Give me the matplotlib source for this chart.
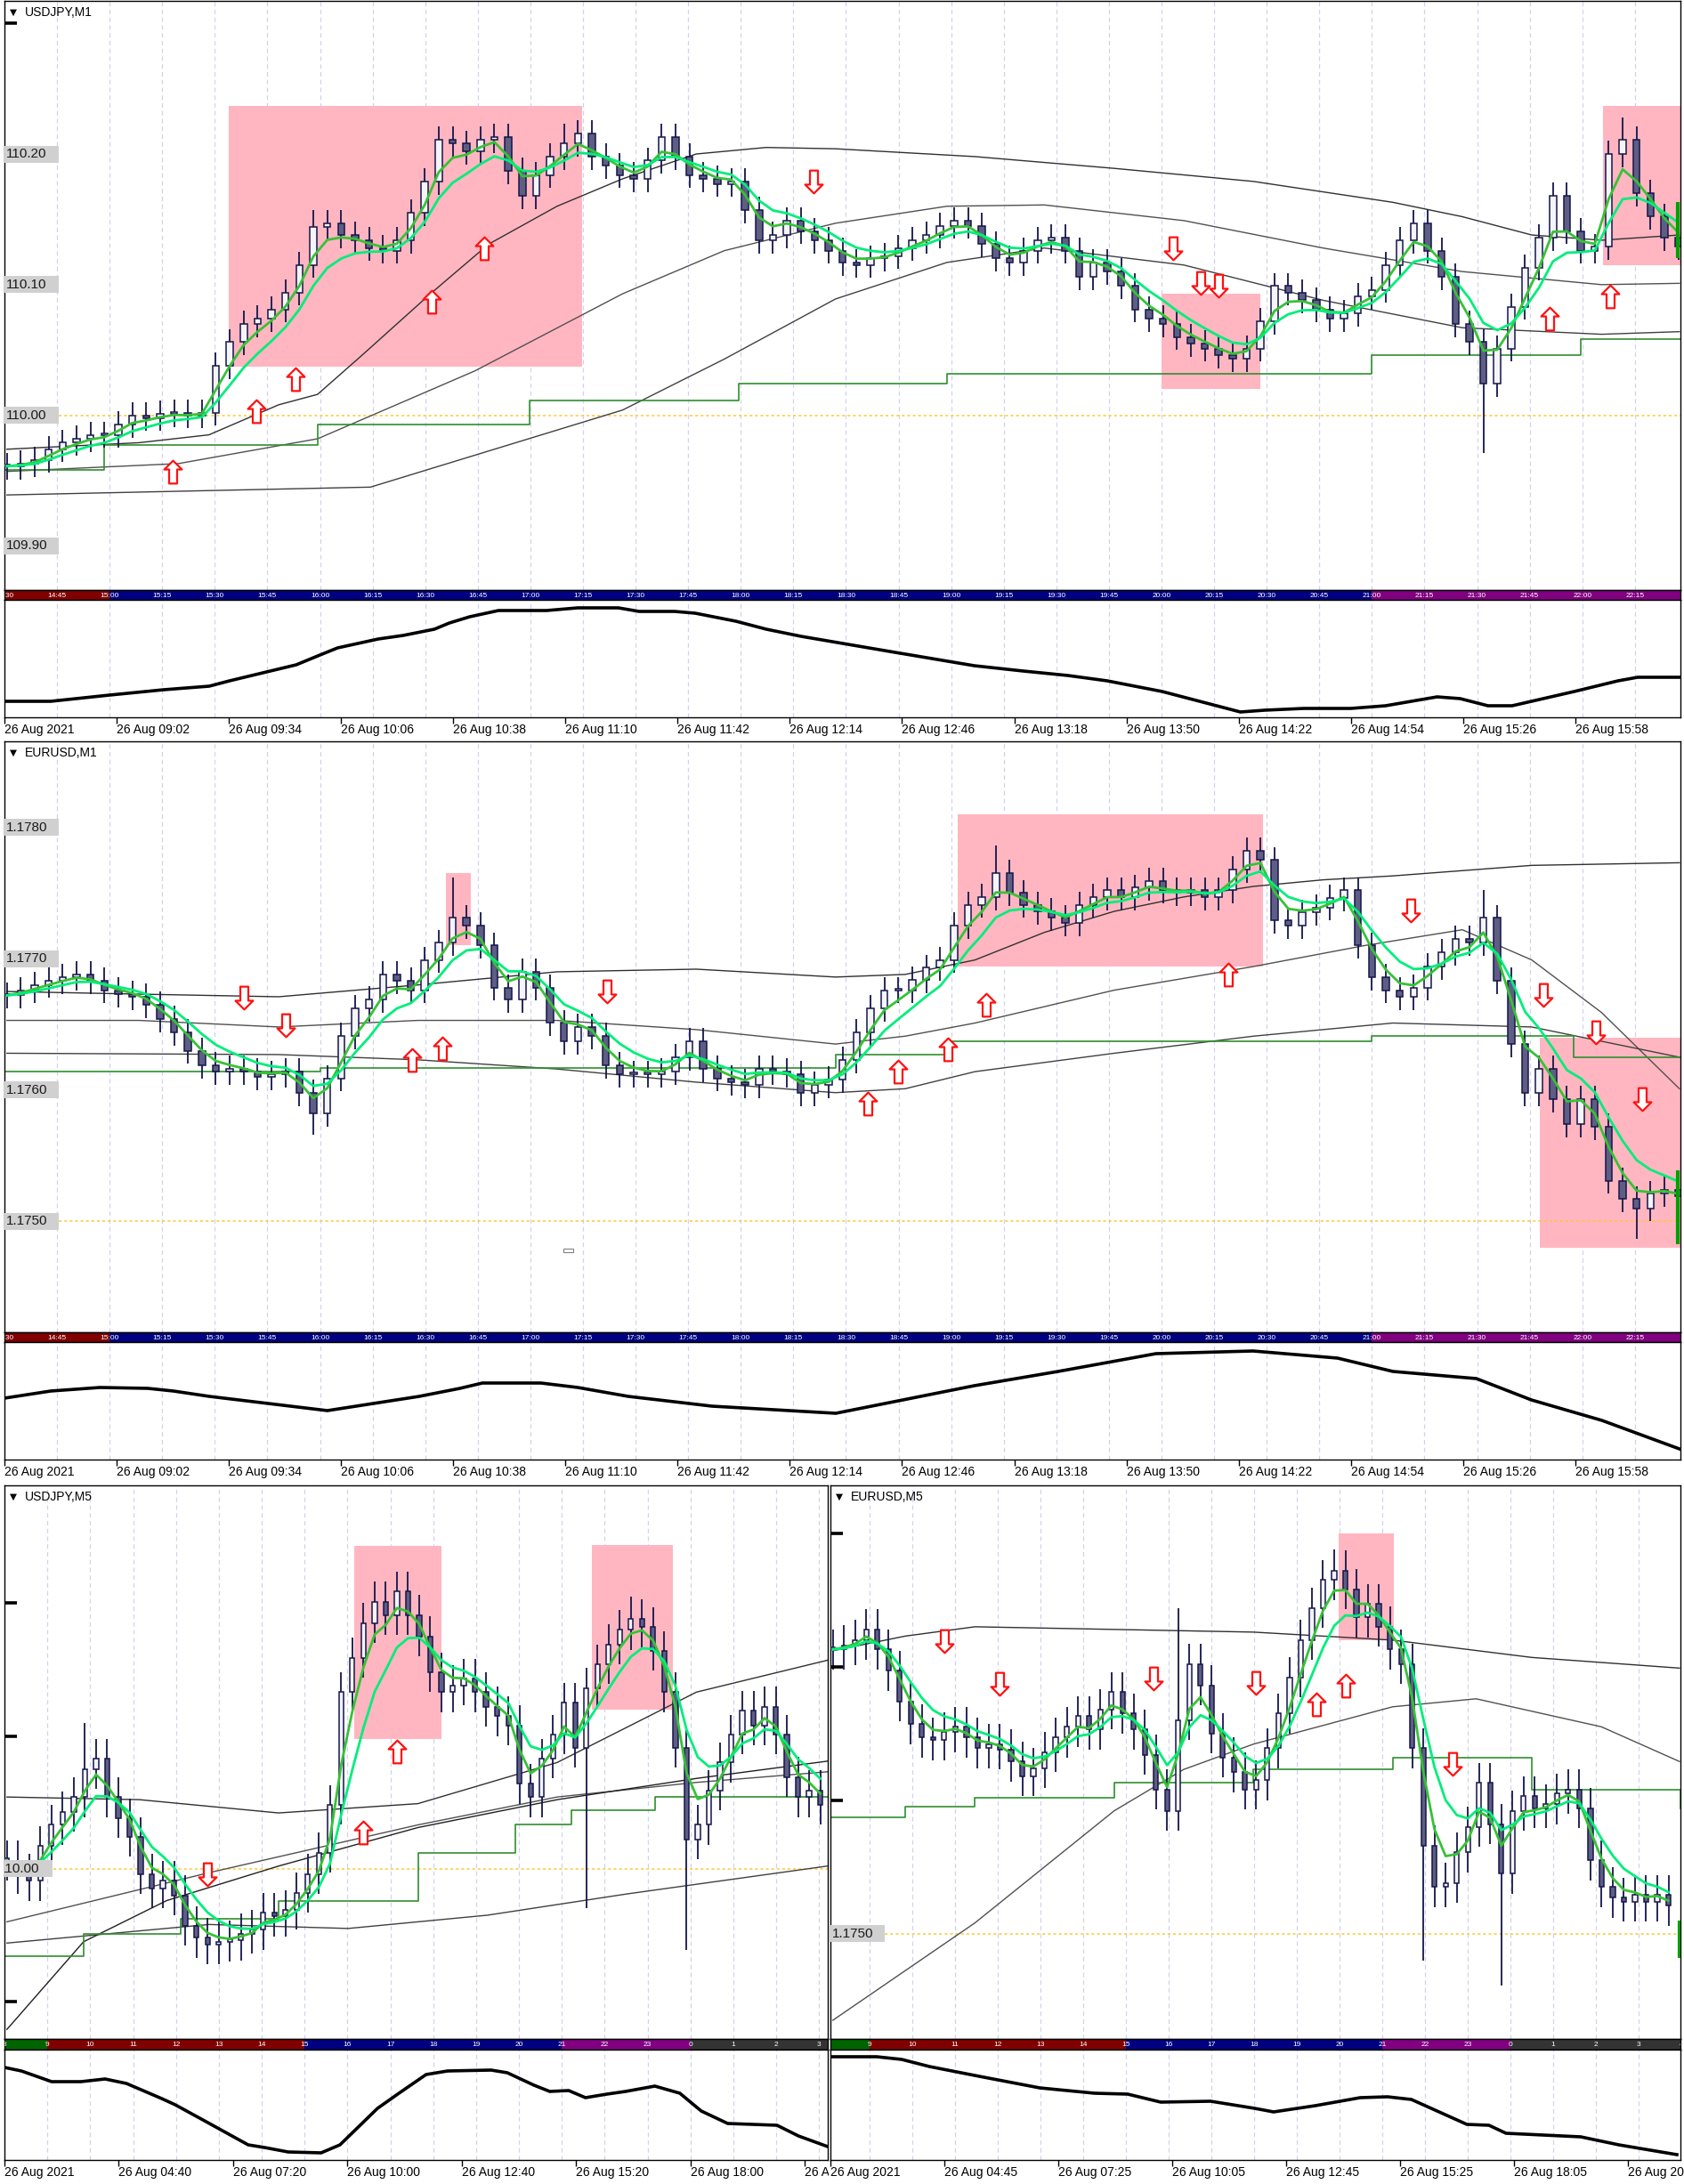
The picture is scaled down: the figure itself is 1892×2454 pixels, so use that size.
import numpy as np
import pandas as pd
import matplotlib
matplotlib.use('Agg')
import matplotlib.pyplot as plt
from matplotlib.path import Path
from matplotlib.patches import Rectangle
from matplotlib.transforms import blended_transform_factory, Bbox, TransformedBbox

plt.rcParams['font.family'] = ['Liberation Sans', 'DejaVu Sans']

# ===================== DATA =====================
# ---- USDJPY M1 (top panel) : closes, one candle every ~4 minutes from 08:30
uj1_close = [109.961, 109.963, 109.966, 109.974, 109.979, 109.982, 109.985, 109.985, 109.993, 110.000,
             109.998, 110.001, 110.002, 110.000, 110.002, 110.038, 110.056, 110.070, 110.074, 110.081,
             110.094, 110.115, 110.144, 110.147, 110.138, 110.134, 110.128, 110.126, 110.134, 110.155,
             110.179, 110.211, 110.208, 110.202, 110.211, 110.213, 110.187, 110.168, 110.184, 110.198,
             110.208, 110.216, 110.198, 110.191, 110.184, 110.181, 110.195, 110.213, 110.198, 110.184,
             110.181, 110.177, 110.179, 110.157, 110.134, 110.138, 110.149, 110.141, 110.134, 110.126,
             110.117, 110.115, 110.120, 110.122, 110.128, 110.134, 110.138, 110.145, 110.149, 110.145,
             110.131, 110.120, 110.117, 110.126, 110.134, 110.136, 110.126, 110.106, 110.117, 110.110,
             110.099, 110.081, 110.074, 110.070, 110.060, 110.055, 110.051, 110.046, 110.043, 110.051,
             110.072, 110.099, 110.094, 110.088, 110.081, 110.074, 110.078, 110.091, 110.096, 110.115,
             110.134, 110.147, 110.126, 110.106, 110.070, 110.056, 110.024, 110.051, 110.083, 110.113,
             110.136, 110.168, 110.141, 110.126, 110.129, 110.200, 110.211, 110.170, 110.152, 110.136,
             110.129]
uj1_spike_high = {22: 110.157, 40: 110.223, 116: 110.228}
uj1_spike_low = {106: 109.971}
uj1_upper_t = [0.7, 38.4, 58.3, 78.2, 89.3, 102, 121.5, 138.1, 157.6, 176.3, 197.3, 217.2, 237, 276.8, 316.5, 356.2, 396, 415.8, 435.6, 455.5, 477.7]
uj1_upper_p = [109.974, 109.979, 109.985, 110.008, 110.016, 110.046, 110.093, 110.131, 110.160, 110.181, 110.200, 110.205, 110.204, 110.198, 110.189, 110.179, 110.163, 110.152, 110.138, 110.134, 110.138]
uj1_mid_t = [0.7, 49.6, 89.3, 134.2, 176.3, 205.3, 237, 268.8, 296.6, 336.4, 376.1, 415.8, 455.5, 477.7]
uj1_mid_p = [109.957, 109.963, 109.982, 110.034, 110.093, 110.126, 110.147, 110.160, 110.161, 110.149, 110.128, 110.110, 110.100, 110.101]
uj1_low_t = [0.7, 104.4, 176.3, 205.3, 237, 268.8, 296.6, 336.4, 376.1, 415.8, 455.5, 477.7]
uj1_low_p = [109.939, 109.945, 110.004, 110.043, 110.089, 110.117, 110.128, 110.115, 110.088, 110.067, 110.062, 110.064]
uj1_step_t = [0, 28.5, 89.3, 149.7, 209.3, 268.8, 390, 449.6, 478]
uj1_step_p = [109.958, 109.977, 109.993, 110.011, 110.024, 110.032, 110.046, 110.058, 110.058]
uj1_up_t = [48.0, 71.8, 82.9, 121.9, 136.9, 440.8, 457.9]
uj1_up_p = [109.957, 110.003, 110.028, 110.087, 110.128, 110.074, 110.091]
uj1_dn_t = [230.7, 333.2, 341.1, 346.3]
uj1_dn_p = [110.179, 110.128, 110.101, 110.099]
uj1_boxes = [(63.9, 164.8, 110.037, 110.237), (330.0, 358.2, 110.020, 110.093), (455.9, 478.0, 110.115, 110.237)]
uj1_last_bar = (110.120, 110.163)
uj1_ind_t = [0, 13.2, 30, 45.4, 58.4, 64.2, 83.2, 90.6, 95, 106.6, 113.7, 122.6, 126.9, 132.7, 140.9, 154.6,
             163.5, 175.1, 181, 191.1, 197, 208.6, 217.3, 227.2, 252.5, 276.6, 290.6, 303.3, 314.5, 330.2,
             352.5, 359.4, 370.6, 384, 393.9, 408.6, 415.2, 423.1, 430, 447.7, 460.2, 465.8, 478]
uj1_ind_v = [18, 18, 25, 31, 35, 41, 59, 71, 78, 88, 92, 99, 106, 113, 120, 120, 123, 123, 119, 119, 117, 108,
             99, 91, 74, 58, 52, 47, 41, 29, 6, 8, 10, 10, 13, 23, 21, 13, 13, 29, 41, 45, 45]

# ---- EURUSD M1 (second panel)
eu1_close = [1.17672, 1.17676, 1.17680, 1.17683, 1.17686, 1.17688, 1.17683, 1.17676, 1.17673, 1.17671,
             1.17665, 1.17654, 1.17644, 1.17630, 1.17619, 1.17614, 1.17616, 1.17614, 1.17610, 1.17612,
             1.17614, 1.17598, 1.17582, 1.17609, 1.17641, 1.17662, 1.17669, 1.17688, 1.17683, 1.17676,
             1.17699, 1.17712, 1.17731, 1.17725, 1.17710, 1.17678, 1.17669, 1.17690, 1.17678, 1.17651,
             1.17637, 1.17648, 1.17641, 1.17619, 1.17612, 1.17612, 1.17612, 1.17614, 1.17625, 1.17637,
             1.17616, 1.17609, 1.17606, 1.17604, 1.17616, 1.17614, 1.17612, 1.17598, 1.17604, 1.17608,
             1.17623, 1.17644, 1.17662, 1.17676, 1.17676, 1.17684, 1.17693, 1.17699, 1.17725, 1.17741,
             1.17747, 1.17765, 1.17750, 1.17741, 1.17736, 1.17731, 1.17727, 1.17741, 1.17747, 1.17752,
             1.17747, 1.17754, 1.17759, 1.17752, 1.17750, 1.17752, 1.17747, 1.17752, 1.17768, 1.17782,
             1.17775, 1.17729, 1.17725, 1.17735, 1.17739, 1.17746, 1.17752, 1.17710, 1.17686, 1.17676,
             1.17671, 1.17678, 1.17694, 1.17705, 1.17715, 1.17712, 1.17731, 1.17683, 1.17635, 1.17598,
             1.17616, 1.17593, 1.17574, 1.17593, 1.17572, 1.17531, 1.17517, 1.17510, 1.17521, 1.17524,
             1.17519]
eu1_spike_high = {32: 1.17762, 71: 1.17786, 89: 1.17789, 106: 1.17752}
eu1_spike_low = {22: 1.17566, 117: 1.17487}
eu1_upper_t = [0.7, 38.4, 78.2, 117.9, 157.6, 197.3, 237, 256.9, 276.8, 296.6, 316.5, 336.4, 356.2, 376.1, 396, 435.6, 477.7]
eu1_upper_p = [1.17675, 1.17673, 1.17671, 1.17680, 1.17690, 1.17692, 1.17686, 1.17688, 1.17699, 1.17720, 1.17736, 1.17747, 1.17755, 1.17760, 1.17763, 1.17771, 1.17773]
eu1_mid_t = [0.7, 38.4, 78.2, 117.9, 157.6, 197.3, 237, 256.9, 276.8, 316.5, 356.2, 388, 415.8, 435.6, 455.5, 477.7]
eu1_mid_p = [1.17653, 1.17653, 1.17648, 1.17653, 1.17653, 1.17646, 1.17635, 1.17641, 1.17651, 1.17676, 1.17694, 1.17710, 1.17722, 1.17699, 1.17659, 1.17601]
eu1_low_t = [0.7, 78.2, 117.9, 157.6, 197.3, 237, 256.9, 276.8, 316.5, 356.2, 396, 435.6, 477.7]
eu1_low_p = [1.17628, 1.17627, 1.17623, 1.17616, 1.17606, 1.17598, 1.17601, 1.17614, 1.17628, 1.17641, 1.17651, 1.17648, 1.17625]
eu1_step_t = [0, 90.1, 237, 268.8, 390, 447.6, 478]
eu1_step_p = [1.17614, 1.17617, 1.17627, 1.17637, 1.17641, 1.17625, 1.17625]
eu1_up_t = [116.3, 125.0, 246.2, 254.9, 269.2, 280.0, 349.1]
eu1_up_p = [1.17623, 1.17632, 1.17590, 1.17614, 1.17631, 1.17665, 1.17688]
eu1_dn_t = [68.2, 80.2, 171.9, 401.1, 438.8, 453.9, 467.0]
eu1_dn_p = [1.17670, 1.17649, 1.17675, 1.17737, 1.17672, 1.17644, 1.17593]
eu1_boxes = [(125.8, 133.0, 1.17710, 1.17765), (272.0, 359.0, 1.17694, 1.17810), (438.0, 478.0, 1.17480, 1.17640)]
eu1_last_bar = (1.17483, 1.17539)
eu1_ind_t = [0, 13.2, 27.2, 40.9, 48.2, 58.4, 92.1, 118.3, 129.9, 136.3, 153, 163.5, 177.9, 201.8, 237.1,
             276.6, 300.5, 328.4, 356.1, 380.2, 396, 419.8, 435.5, 455.6, 477.7]
eu1_ind_v = [69, 77, 81, 80, 77, 71, 55, 71, 80, 86, 86, 81, 71, 60, 52, 83, 99, 119, 122, 114, 99, 91, 67, 44, 12]

# ---- USDJPY M5 (bottom left) : one candle every ~15.6 minutes
uj5_close = [110.006, 109.996, 109.991, 110.017, 110.033, 110.043, 110.054, 110.075, 110.083, 110.054,
             110.038, 110.024, 109.996, 109.985, 109.991, 109.980, 109.957, 109.948, 109.943, 109.945,
             109.946, 109.951, 109.954, 109.967, 109.964, 109.969, 109.982, 109.996, 110.012, 110.048,
             110.133, 110.159, 110.185, 110.201, 110.191, 110.209, 110.191, 110.175, 110.148, 110.133,
             110.138, 110.143, 110.133, 110.122, 110.115, 110.108, 110.064, 110.054, 110.083, 110.101,
             110.125, 110.091, 110.136, 110.154, 110.169, 110.180, 110.188, 110.182, 110.164, 110.133,
             110.091, 110.022, 110.033, 110.059, 110.080, 110.101, 110.119, 110.108, 110.122, 110.101,
             110.069, 110.054, 110.059, 110.048]
uj5_spike_high = {7: 110.110, 35: 110.224, 56: 110.205}
uj5_spike_low = {52: 109.970, 61: 109.939}
uj5_lines = {
    'upper': ([3.5, 188.7, 383.6, 578.5, 773.4, 968.3, 1151.5], [110.054, 110.052, 110.042, 110.049, 110.080, 110.133, 110.157]),
    'mid': ([3.5, 286.2, 578.5, 773.4, 968.3, 1151.5], [109.960, 109.997, 110.033, 110.054, 110.065, 110.073]),
    'low': ([3.5, 286.2, 481, 676, 871, 1151.5], [109.944, 109.958, 109.955, 109.965, 109.981, 110.002]),
    'long': ([3.5, 110.7, 227, 383.6, 578.5, 773.4, 968.3, 1151.5], [109.879, 109.945, 109.976, 110.002, 110.031, 110.052, 110.068, 110.081]),
}
uj5_step_t = [0, 110.7, 247.2, 383.6, 578.5, 715, 793, 910, 1152]
uj5_step_p = [109.934, 109.951, 109.962, 109.976, 110.012, 110.033, 110.044, 110.054, 110.054]
uj5_up_t = [502.5, 549]
uj5_up_p = [110.027, 110.088]
uj5_dn_t = [284]
uj5_dn_p = [109.996]
uj5_boxes = [(489, 611, 110.098, 110.243), (822, 935, 110.120, 110.244)]
uj5_ind_t = [0, 23.7, 66, 107, 140.7, 170.6, 220, 239, 280, 341, 364, 397, 443, 469.5, 522, 552, 590, 620,
             681, 703.6, 741, 763, 789.5, 813, 843, 869, 910, 945, 975, 1012, 1081, 1111, 1152]
uj5_ind_v = [104, 100, 88, 88, 91, 86, 69, 62, 44, 17, 14, 9, 8, 17, 58, 75, 96, 100, 101, 98, 84, 77, 78,
             70, 74, 77, 83, 75, 55, 41, 39, 27, 15]

# ---- EURUSD M5 (bottom right)
eu5_close = [1.17713, 1.17716, 1.17720, 1.17728, 1.17713, 1.17697, 1.17674, 1.17657, 1.17647, 1.17645,
             1.17651, 1.17655, 1.17647, 1.17639, 1.17642, 1.17638, 1.17629, 1.17618, 1.17624, 1.17636,
             1.17647, 1.17655, 1.17663, 1.17653, 1.17668, 1.17681, 1.17665, 1.17653, 1.17634, 1.17608,
             1.17592, 1.17660, 1.17702, 1.17686, 1.17650, 1.17632, 1.17621, 1.17608, 1.17615, 1.17639,
             1.17665, 1.17692, 1.17720, 1.17744, 1.17765, 1.17772, 1.17758, 1.17737, 1.17747, 1.17730,
             1.17713, 1.17702, 1.17639, 1.17566, 1.17535, 1.17538, 1.17561, 1.17580, 1.17613, 1.17582,
             1.17545, 1.17592, 1.17603, 1.17594, 1.17597, 1.17605, 1.17608, 1.17594, 1.17555, 1.17535,
             1.17527, 1.17524, 1.17529, 1.17524, 1.17529, 1.17521]
eu5_spike_high = {45: 1.17788, 31: 1.17744}
eu5_spike_low = {60: 1.17461, 53: 1.17480}
eu5_lines = {
    'upper': ([3.4, 105.1, 203, 398.5, 594.1, 789.7, 985.3, 1192.6], [1.17712, 1.17723, 1.17730, 1.17728, 1.17726, 1.17720, 1.17707, 1.17699]),
    'mid': ([3.4, 203, 398.5, 496, 594.1, 789.7, 907, 1083, 1192.6], [1.17435, 1.17508, 1.17592, 1.17623, 1.17642, 1.17670, 1.17676, 1.17655, 1.17629]),
}
eu5_step_t = [0, 105.1, 203, 398.5, 594.1, 789.7, 985.3, 1194]
eu5_step_p = [1.17587, 1.17595, 1.17602, 1.17613, 1.17623, 1.17632, 1.17608, 1.17594]
eu5_up_t = [682.5, 723.5]
eu5_up_p = [1.17672, 1.17686]
eu5_dn_t = [160, 238, 453.5, 598, 874]
eu5_dn_p = [1.17719, 1.17687, 1.17691, 1.17688, 1.17627]
eu5_boxes = [(714, 792, 1.17720, 1.17800)]
eu5_last_bar = (1.17482, 1.17510)
eu5_ind_t = [0, 65, 100, 139, 209, 294, 371, 417.5, 464, 534, 596, 622.5, 681, 744, 782.5, 816, 894, 925,
             949, 1054, 1107.5, 1189]
eu5_ind_v = [116, 116, 113, 105, 94, 81, 75, 74, 65, 66, 58, 54, 61, 70, 71, 68, 40, 39, 30, 26, 17, 6]

# time-axis labels
m1_tick_t = [0, 32, 64, 96, 128, 160, 192, 224, 256, 288, 320, 352, 384, 416, 448]
m1_tick_lab = ['26 Aug 2021', '26 Aug 09:02', '26 Aug 09:34', '26 Aug 10:06', '26 Aug 10:38', '26 Aug 11:10',
               '26 Aug 11:42', '26 Aug 12:14', '26 Aug 12:46', '26 Aug 13:18', '26 Aug 13:50', '26 Aug 14:22',
               '26 Aug 14:54', '26 Aug 15:26', '26 Aug 15:58']
uj5_tick_t = [0, 160, 320, 480, 640, 800, 960, 1120]
uj5_tick_lab = ['26 Aug 2021', '26 Aug 04:40', '26 Aug 07:20', '26 Aug 10:00', '26 Aug 12:40', '26 Aug 15:20',
                '26 Aug 18:00', '26 Aug 20:40']
eu5_tick_t = [0, 160, 320, 480, 640, 800, 960, 1120]
eu5_tick_lab = ['26 Aug 2021', '26 Aug 04:45', '26 Aug 07:25', '26 Aug 10:05', '26 Aug 12:45', '26 Aug 15:25',
                '26 Aug 18:05', '26 Aug 20:45']

# ===================== STYLE =====================
W, H = 1892, 2454
fig = plt.figure(figsize=(W / 100, H / 100), dpi=100)
fig.patch.set_facecolor('white')

GRID_C = '#d2d2ee'
EDGE_C = '#15154a'
BEAR_C = '#5e5e84'
BULL_C = '#f4f4fa'
PINK = '#ffb6c1'
FAST_C = '#36c236'
SLOW_C = '#00ee7a'
STEP_C = '#2f8f2f'
YEL_C = '#ffc830'
ENV_C = ['#303030', '#505050', '#404040', '#202020']

UPV = [(0, 1), (0.77, 0.23), (0.35, 0.23), (0.35, -1), (-0.35, -1), (-0.35, 0.23), (-0.77, 0.23), (0, 1)]
CODES = [Path.MOVETO] + [Path.LINETO] * 6 + [Path.CLOSEPOLY]
UP = Path(UPV, CODES)
DOWN = Path([(x, -y) for x, y in UPV], CODES)


def add_ax(x0, y0, x1, y1):
    ax = fig.add_axes([x0 / W, 1 - y1 / H, (x1 - x0) / W, (y1 - y0) / H])
    ax.set_xticks([])
    ax.set_yticks([])
    for s in ax.spines.values():
        s.set_linewidth(1.0)
        s.set_color('black')
    return ax


def candles(ax, t, close, wick, width, sp_hi, sp_lo):
    c = np.asarray(close, float)
    o = np.r_[c[0], c[:-1]]
    hi = np.maximum(o, c) + wick
    lo = np.minimum(o, c) - wick
    for k, v in sp_hi.items():
        hi[k] = max(hi[k], v)
    for k, v in sp_lo.items():
        lo[k] = min(lo[k], v)
    ax.vlines(t, lo, hi, color=EDGE_C, lw=1.3, zorder=3)
    up = c >= o
    body = np.maximum(np.abs(c - o), wick * 0.12)
    bot = np.minimum(o, c)
    ax.bar(t[up], body[up], width, bot[up], color=BULL_C, edgecolor=EDGE_C, lw=1.1, zorder=4)
    ax.bar(t[~up], body[~up], width, bot[~up], color=BEAR_C, edgecolor=EDGE_C, lw=1.1, zorder=4)
    ax.plot(t, pd.Series(c).ewm(span=3, adjust=False).mean(), color=FAST_C, lw=2.0, zorder=5)
    ax.plot(t, pd.Series(c).ewm(span=6, adjust=False).mean(), color=SLOW_C, lw=2.0, zorder=5)


def arrows(ax, ut, up, dt, dp):
    ax.plot(ut, up, ls='none', marker=UP, ms=18.5, mfc='white', mec='#ff1010', mew=1.6, zorder=9)
    ax.plot(dt, dp, ls='none', marker=DOWN, ms=18.5, mfc='white', mec='#ff1010', mew=1.6, zorder=9)


def boxes(ax, bl):
    for x0, x1, y0, y1 in bl:
        ax.add_patch(Rectangle((x0, y0), x1 - x0, y1 - y0, fc=PINK, ec='none', zorder=1))


def last_bar(ax, rng):
    tr = blended_transform_factory(ax.transAxes, ax.transData)
    ax.plot([0.9985, 0.9985], list(rng), transform=tr, color='#00a000', lw=3, zorder=8,
            solid_capstyle='butt')


def main_panel(box, xlim, ylim, grid, title, levels, shown_levels, fmt, yel, lab_x=1.5):
    ax = add_ax(*box)
    ax.set_xlim(*xlim)
    ax.set_ylim(*ylim)
    for g in grid:
        ax.axvline(g, color=GRID_C, lw=0.9, ls=(0, (4, 3)), zorder=0.5)
    ax.axhline(yel, color=YEL_C, lw=1.1, ls=(0, (2, 2)), zorder=2)
    axw = (box[2] - box[0])
    axh = (box[3] - box[1])
    ppu = axh / (ylim[1] - ylim[0])
    tr = blended_transform_factory(ax.transAxes, ax.transData)
    for lv in levels:
        ax.plot([0, 14 / axw], [lv, lv], transform=tr, color='black', lw=2.6,
                solid_capstyle='butt', zorder=10, clip_on=False)
    for lv in shown_levels:
        ax.add_patch(Rectangle((0, lv - 9.5 / ppu), (61 + lab_x - 1.5) / axw, 19 / ppu, transform=tr,
                               fc='#d0d0d0', ec='none', zorder=11))
        ax.text(lab_x / axw, lv, fmt.format(lv), transform=tr, fontsize=11, va='center', ha='left',
                color='#1a1a1a', zorder=12, clip_on=True)
    ax.text(6 / axw, 1 - 13 / axh, '\u25bc', transform=ax.transAxes, fontsize=7.5, va='center',
            ha='left', family='DejaVu Sans', zorder=12)
    ax.text(23 / axw, 1 - 13 / axh, title, transform=ax.transAxes, fontsize=10, va='center',
            ha='left', zorder=12)
    return ax


def session_bar(box, xlim, segs, labels):
    ax = add_ax(*box)
    ax.set_xlim(*xlim)
    ax.set_ylim(0, 1)
    for a, b, col in segs:
        ax.axvspan(a, b, color=col, lw=0)
    for t, s in labels:
        ax.text(t, 0.45, s, color='white', fontsize=6, ha='center', va='center', clip_on=True)
    return ax


def indicator(box, xlim, t, v, ticks, labs, grid, clip_x1):
    ax = add_ax(*box)
    ax.set_xlim(*xlim)
    ax.set_ylim(0, box[3] - box[1])
    for g in grid:
        ax.axvline(g, color=GRID_C, lw=0.9, ls=(0, (4, 3)), zorder=0.5)
    ax.plot(t, v, color='black', lw=2.6, zorder=3, solid_joinstyle='miter')
    ax.set_xticks(ticks)
    ax.tick_params(axis='x', direction='out', length=5, width=1, labelbottom=False)
    tr = blended_transform_factory(ax.transData, ax.transAxes)
    axh = box[3] - box[1]
    clipbox = TransformedBbox(Bbox.from_extents(box[0] / W, 0, clip_x1 / W, 1), fig.transFigure)
    for tt, s in zip(ticks, labs):
        txt = ax.text(tt, -14 / axh, s, transform=tr, fontsize=10, ha='left', va='center')
        txt.set_clip_on(True)
        txt.set_clip_box(clipbox)
    return ax


# ---------------- Panel 1 : USDJPY M1 ----------------
XL = (0, 478)
m1_grid = np.arange(15, 478, 15)
ax1 = main_panel((5, 1, 1888, 663), XL, (109.8662, 110.3172), m1_grid, 'USDJPY,M1',
                 [109.9, 110.0, 110.1, 110.2, 110.3], [110.2, 110.1, 110.0, 109.9], '{:.2f}', 110.0)
t1 = np.linspace(0.7, 477.4, len(uj1_close))
boxes(ax1, uj1_boxes)
ax1.plot(uj1_upper_t, uj1_upper_p, color=ENV_C[0], lw=1.0, zorder=2)
ax1.plot(uj1_mid_t, uj1_mid_p, color=ENV_C[1], lw=1.0, zorder=2)
ax1.plot(uj1_low_t, uj1_low_p, color=ENV_C[2], lw=1.0, zorder=2)
ax1.step(uj1_step_t, uj1_step_p, where='post', color=STEP_C, lw=1.2, zorder=2)
candles(ax1, t1, uj1_close, 0.010, 1.9, uj1_spike_high, uj1_spike_low)
arrows(ax1, uj1_up_t, uj1_up_p, uj1_dn_t, uj1_dn_p)
last_bar(ax1, uj1_last_bar)

top_segs = [(0, 30, '#800000'), (30, 390, '#000080'), (390, 478, '#800080')]
top_labels = [(m, '%02d:%02d' % ((14 * 60 + 30 + m) // 60, (14 * 60 + 30 + m) % 60)) for m in range(0, 478, 15)]
session_bar((5, 663, 1888, 674), XL, top_segs, top_labels)
indicator((5, 674, 1888, 806), XL, uj1_ind_t, uj1_ind_v, m1_tick_t, m1_tick_lab, m1_grid, 1892)

# ---------------- Panel 2 : EURUSD M1 ----------------
ax2 = main_panel((5, 833, 1888, 1497), XL, (1.174156, 1.178654), m1_grid, 'EURUSD,M1',
                 [1.1750, 1.1760, 1.1770, 1.1780], [1.1780, 1.1770, 1.1760, 1.1750], '{:.4f}', 1.1750)
t2 = np.linspace(0.7, 477.4, len(eu1_close))
boxes(ax2, eu1_boxes)
ax2.plot(eu1_upper_t, eu1_upper_p, color=ENV_C[0], lw=1.0, zorder=2)
ax2.plot(eu1_mid_t, eu1_mid_p, color=ENV_C[1], lw=1.0, zorder=2)
ax2.plot(eu1_low_t, eu1_low_p, color=ENV_C[2], lw=1.0, zorder=2)
ax2.step(eu1_step_t, eu1_step_p, where='post', color=STEP_C, lw=1.2, zorder=2)
candles(ax2, t2, eu1_close, 0.00010, 1.9, eu1_spike_high, eu1_spike_low)
arrows(ax2, eu1_up_t, eu1_up_p, eu1_dn_t, eu1_dn_p)
last_bar(ax2, eu1_last_bar)
ax2.add_patch(Rectangle((159.5, 1.174765), 2.6, 0.00003, fc='white', ec='#808080', lw=0.8, zorder=6))
session_bar((5, 1497, 1888, 1508), XL, top_segs, top_labels)
indicator((5, 1508, 1888, 1640), XL, eu1_ind_t, eu1_ind_v, m1_tick_t, m1_tick_lab, m1_grid, 1892)

# ---------------- Panel 3 : USDJPY M5 ----------------
XL3 = (0, 1152)
g3 = np.arange(60, 1152, 60)
ax3 = main_panel((5, 1669, 930, 2291), XL3, (109.8718, 110.2887), g3, 'USDJPY,M5',
                 [109.9, 110.0, 110.1, 110.2], [110.0], '{:.2f}', 110.0, lab_x=-6)
t3 = 3.5 + 15.59 * np.arange(len(uj5_close))
boxes(ax3, uj5_boxes)
for i, (k, (tt, pp)) in enumerate(uj5_lines.items()):
    ax3.plot(tt, pp, color=ENV_C[i], lw=1.0, zorder=2)
ax3.step(uj5_step_t, uj5_step_p, where='post', color=STEP_C, lw=1.2, zorder=2)
candles(ax3, t3, uj5_close, 0.015, 6.5, uj5_spike_high, uj5_spike_low)
arrows(ax3, uj5_up_t, uj5_up_p, uj5_dn_t, uj5_dn_p)
segs3 = [(0, 60, '#006400'), (60, 420, '#800000'), (420, 780, '#000080'), (780, 960, '#800080'), (960, 1152, '#333333')]
labs3 = [(60 * k, str((8 + k) % 24)) for k in range(0, 20)]
session_bar((5, 2291, 930, 2303), XL3, segs3, labs3)
indicator((5, 2303, 930, 2427), XL3, uj5_ind_t, uj5_ind_v, uj5_tick_t, uj5_tick_lab, g3, 931)

# ---------------- Panel 4 : EURUSD M5 ----------------
XL4 = (0, 1194)
g4 = np.arange(55, 1194, 60)
ax4 = main_panel((933, 1669, 1888, 2291), XL4, (1.17421, 1.17836), g4, 'EURUSD,M5',
                 [1.1750, 1.1760, 1.1770, 1.1780], [1.1750], '{:.4f}', 1.1750)
t4 = 3.4 + 15.65 * np.arange(len(eu5_close))
boxes(ax4, eu5_boxes)
for i, (k, (tt, pp)) in enumerate(eu5_lines.items()):
    ax4.plot(tt, pp, color=ENV_C[i], lw=1.0, zorder=2)
ax4.step(eu5_step_t, eu5_step_p, where='post', color=STEP_C, lw=1.2, zorder=2)
candles(ax4, t4, eu5_close, 0.00015, 6.5, eu5_spike_high, eu5_spike_low)
arrows(ax4, eu5_up_t, eu5_up_p, eu5_dn_t, eu5_dn_p)
last_bar(ax4, eu5_last_bar)
segs4 = [(0, 55, '#006400'), (55, 415, '#800000'), (415, 775, '#000080'), (775, 955, '#800080'), (955, 1194, '#333333')]
labs4 = [(55 + 60 * k, str((9 + k) % 24)) for k in range(0, 20)]
session_bar((933, 2291, 1888, 2303), XL4, segs4, labs4)
indicator((933, 2303, 1888, 2427), XL4, eu5_ind_t, eu5_ind_v, eu5_tick_t, eu5_tick_lab, g4, 1892)

fig.savefig('out.png', dpi=100)
